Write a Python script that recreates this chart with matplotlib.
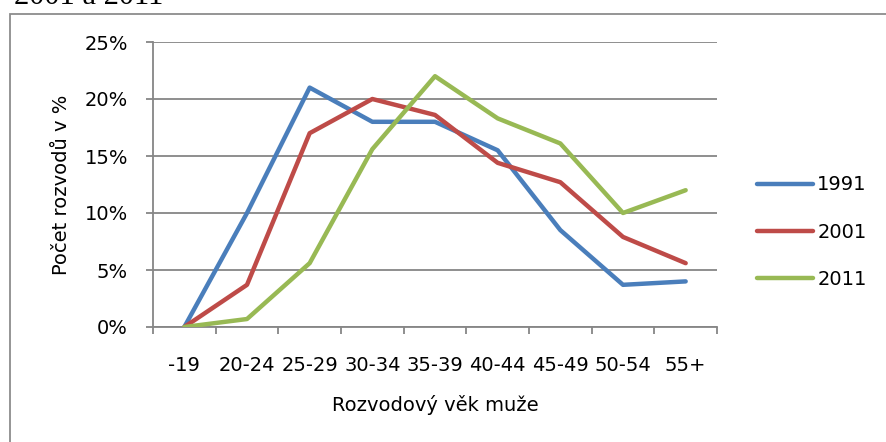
import matplotlib.pyplot as plt
from matplotlib.patches import Rectangle
from matplotlib.ticker import PercentFormatter, FixedLocator
import numpy as np

# Data (share of divorces, %)
categories = ["-19", "20-24", "25-29", "30-34", "35-39", "40-44", "45-49", "50-54", "55+"]
years = ["1991", "2001", "2011"]
v1991 = [0.0, 10.0, 21.0, 18.0, 18.0, 15.5, 8.5, 3.7, 4.0]
v2001 = [0.0, 3.7, 17.0, 20.0, 18.6, 14.4, 12.7, 7.9, 5.6]
v2011 = [0.0, 0.7, 5.6, 15.6, 22.0, 18.3, 16.1, 10.0, 12.0]
colors = ["#4A7EBB", "#BE4B48", "#98B954"]

plt.rcParams["font.family"] = ["DejaVu Sans"]
grid_col = "#868686"

fig = plt.figure(figsize=(8.86, 4.42), dpi=100)
ax = fig.add_axes([153 / 886, 1 - 327 / 442, 564 / 886, 285 / 442])

x = np.arange(len(categories))
for vals, lab, col in zip([v1991, v2001, v2011], years, colors):
    ax.plot(x, vals, color=col, lw=3.2, label=lab,
            solid_capstyle="round", solid_joinstyle="round", zorder=3)

ax.set_xlim(-0.5, len(categories) - 0.5)
ax.set_ylim(0, 25)
ax.set_yticks([0, 5, 10, 15, 20, 25])
ax.yaxis.set_major_formatter(PercentFormatter(100, decimals=0))
ax.grid(axis="y", color=grid_col, lw=1.3)
ax.set_axisbelow(True)

# category labels centred, tick marks between categories
ax.set_xticks(x)
ax.set_xticklabels(categories)
ax.xaxis.set_minor_locator(FixedLocator(np.arange(-0.5, len(categories), 1.0)))
ax.tick_params(axis="x", which="major", length=0, pad=21, labelsize=14)
ax.tick_params(axis="x", which="minor", length=5, width=1.3, color=grid_col)
ax.tick_params(axis="y", length=5, width=1.3, color=grid_col, pad=13, labelsize=14)

for s in ["top", "right"]:
    ax.spines[s].set_visible(False)
for s in ["left", "bottom"]:
    ax.spines[s].set_color(grid_col)
    ax.spines[s].set_linewidth(1.3)

ax.set_xlabel("Rozvodový věk muže", fontsize=14, labelpad=14)
ax.set_ylabel("Počet rozvodů v %", fontsize=14, labelpad=10)

fig.legend(loc="center left", bbox_to_anchor=(757 / 886, 1 - 232 / 442),
           frameon=False, fontsize=14, handlelength=2.9, handletextpad=0.2,
           labelspacing=1.45, borderpad=0, borderaxespad=0)

# chart frame (cut off at right and bottom) and clipped caption above it
fig.patches.append(Rectangle((10 / 886, -0.5), 2, 0.5 + 1 - 14 / 442,
                             transform=fig.transFigure, fill=False,
                             edgecolor="#8c8c8c", lw=1.3))
fig.text(14 / 886, 1 - 4 / 442, "2001 a 2011", family="Liberation Serif",
         fontsize=22, va="baseline", ha="left")

fig.savefig("out.png", dpi=100)
